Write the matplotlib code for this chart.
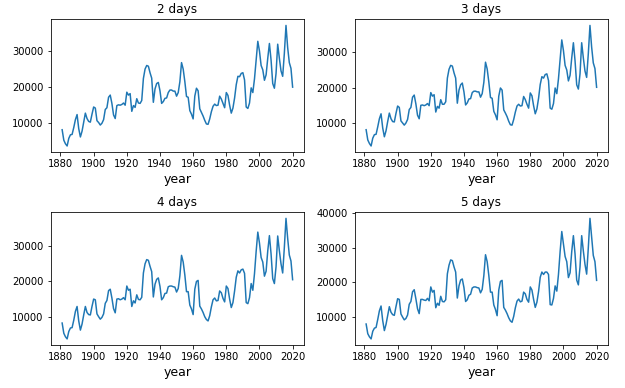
import matplotlib
matplotlib.use("Agg")
import matplotlib.pyplot as plt

years = list(range(1881, 2021))

# yearly values, one list per window length
days_2 = [
    8200, 5300, 4300, 3700, 5800, 6800, 6900, 8800, 11000, 12400,
    8500, 6200, 7800, 10300, 12800, 11300, 10500, 10300, 12500, 14500,
    14200, 10700, 10200, 9500, 10000, 11000, 13800, 14300, 17200, 17800,
    15500, 12300, 11300, 14900, 15100, 15000, 15200, 15600, 15000, 18600,
    17800, 18200, 13300, 14900, 14400, 16800, 15600, 15500, 16300, 22400,
    25000, 26000, 25800, 24000, 22500, 15800, 19500, 21000, 21300, 19000,
    15500, 16000, 16900, 17000, 18500, 19200, 19200, 18900, 18900, 17500,
    18500, 21500, 26800, 25000, 21500, 17400, 17200, 13500, 12500, 11200,
    17500, 19700, 19000, 14000, 13000, 12000, 10800, 9800, 9700, 11200,
    13200, 14700, 15300, 14900, 15000, 17500, 16700, 15500, 14300, 18500,
    17700, 15000, 12800, 14200, 17000, 20700, 23000, 22900, 23800, 24000,
    22000, 14500, 14100, 15600, 19800, 18500, 22300, 27500, 32700, 30000,
    26000, 24800, 21900, 23400, 28000, 32100, 27500, 21000, 19700, 23800,
    31900, 28000, 24500, 23000, 29300, 37100, 31000, 26800, 25200, 20000,
]

days_3 = [
    8100, 5200, 4200, 3500, 5700, 6700, 6800, 8900, 11200, 12600,
    8600, 6100, 7800, 10400, 12800, 11200, 10400, 10300, 12700, 14800,
    14400, 10600, 10000, 9400, 10000, 11000, 13800, 14400, 17300, 17900,
    15400, 12200, 11200, 15000, 15100, 14900, 15100, 15500, 14900, 18600,
    17600, 18000, 13100, 14700, 14200, 16600, 15300, 15300, 16000, 22700,
    25200, 26300, 26100, 24200, 22700, 15600, 19300, 20800, 21300, 18800,
    15100, 15700, 16800, 16900, 18600, 19000, 19000, 18800, 18800, 17300,
    18300, 21500, 27200, 25300, 21600, 17200, 17000, 13300, 12300, 10900,
    17600, 19900, 19300, 13700, 12800, 11800, 10500, 9500, 9400, 11000,
    13100, 14800, 15300, 14800, 14900, 17500, 16600, 15300, 14200, 18500,
    17700, 14900, 12600, 14000, 17000, 20900, 23100, 22700, 23700, 23900,
    22000, 14200, 13900, 15500, 19900, 18300, 22500, 28000, 33500, 30500,
    26300, 25000, 21900, 23500, 28400, 32700, 27600, 20800, 19600, 23900,
    32700, 28400, 24700, 22900, 29600, 37600, 31500, 27000, 25400, 20100,
]

days_4 = [
    8200, 5300, 4300, 3700, 5800, 6800, 6900, 9000, 11500, 12900,
    8800, 6200, 7900, 10500, 12900, 11200, 10600, 10500, 12900, 15000,
    14800, 10800, 10000, 9300, 9800, 10800, 13800, 14600, 17400, 17800,
    15300, 12300, 11100, 15000, 15100, 14800, 15000, 15400, 14800, 18700,
    17500, 17800, 12900, 14500, 13900, 16200, 14900, 14800, 15500, 22400,
    25000, 26200, 26000, 24300, 22800, 15600, 19200, 20600, 21000, 18600,
    14800, 15400, 16600, 16700, 18500, 18700, 18700, 18500, 18400, 17000,
    18000, 21600, 27400, 25500, 21800, 17100, 17100, 13300, 12200, 10600,
    17800, 20000, 20300, 13000, 12200, 11200, 10000, 9200, 8800, 10300,
    12800, 14800, 15300, 14500, 14600, 17300, 16800, 15200, 14200, 18700,
    18000, 15000, 12600, 14000, 17300, 21200, 23000, 22400, 23300, 23500,
    22300, 14000, 13700, 15400, 19400, 17500, 22200, 28500, 34000, 30900,
    26800, 25500, 21500, 22900, 28700, 33000, 27800, 20800, 19400, 24200,
    32900, 28700, 25000, 22400, 29600, 37900, 32300, 27500, 25800, 20500,
]

days_5 = [
    8000, 5200, 4300, 3700, 5900, 6800, 7000, 9300, 11800, 13200,
    9000, 6100, 7900, 10500, 13000, 11400, 10700, 10500, 13000, 15300,
    15100, 10900, 10000, 9200, 9600, 10600, 13700, 14500, 17300, 17900,
    15300, 12400, 11000, 15100, 15100, 14900, 14800, 15400, 14700, 18700,
    17200, 17700, 12700, 14000, 13400, 16000, 14500, 14400, 15000, 22500,
    25000, 26500, 26300, 24500, 23000, 15500, 19000, 20700, 21000, 18500,
    14500, 15000, 16300, 16600, 18400, 18700, 18700, 18500, 18400, 17000,
    18000, 22000, 28000, 26000, 22000, 17200, 17200, 13500, 12200, 10400,
    17800, 20300, 20600, 12800, 12000, 11000, 9800, 8900, 8500, 10200,
    12700, 14600, 15200, 14400, 14600, 17200, 16700, 15100, 14300, 18700,
    17800, 15100, 12800, 14300, 17400, 21500, 23000, 22300, 23000, 23000,
    22300, 13600, 13500, 15400, 19000, 17500, 22300, 28900, 34700, 31200,
    27500, 26000, 21400, 22800, 28900, 33500, 28200, 20700, 19300, 24500,
    33500, 29100, 25200, 22400, 30000, 38500, 33200, 27800, 26000, 20600,
]

series = [days_2, days_3, days_4, days_5]
titles = ["2 days", "3 days", "4 days", "5 days"]

fig, axes = plt.subplots(2, 2, figsize=(625 / 72, 388 / 72), dpi=72)
fig.subplots_adjust(left=0.081, right=0.973, top=0.950, bottom=0.111,
                    wspace=0.199, hspace=0.455)

for ax, values, title in zip(axes.flat, series, titles):
    ax.plot(years, values, color="#1f77b4", linewidth=1.5)
    ax.set_title(title, fontsize=12)
    ax.set_xlabel("year", fontsize=12.5)
    ax.set_xticks([1880, 1900, 1920, 1940, 1960, 1980, 2000, 2020])
    ax.tick_params(labelsize=10)

fig.savefig("out.png", dpi=72)
